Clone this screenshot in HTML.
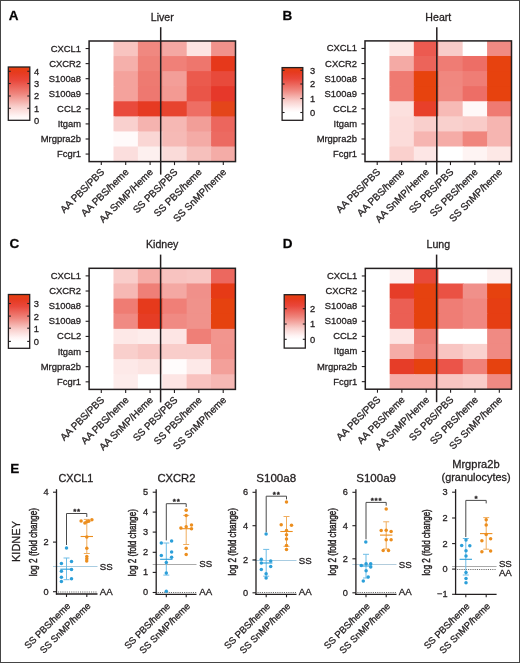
<!DOCTYPE html>
<html><head><meta charset="utf-8"><style>
html,body{margin:0;padding:0;background:#fff;overflow:hidden;width:520px;height:663px;}
svg{display:block;}
text{stroke:#231f20;stroke-width:0.3px;}
</style></head><body>
<svg width="520" height="663" viewBox="0 0 520 663" font-family='"Liberation Sans", sans-serif' style="will-change:transform">
<rect x="0.00" y="0.00" width="520.00" height="663.00" fill="#ffffff" />
<rect x="89.10" y="41.00" width="25.40" height="16.07" fill="#ffffff" />
<rect x="113.50" y="41.00" width="25.40" height="16.07" fill="#f8c4c0" />
<rect x="137.90" y="41.00" width="25.40" height="16.07" fill="#f08880" />
<rect x="162.30" y="41.00" width="25.40" height="16.07" fill="#f4a8a3" />
<rect x="186.70" y="41.00" width="25.40" height="16.07" fill="#fde4e2" />
<rect x="211.10" y="41.00" width="24.40" height="16.07" fill="#f0928b" />
<rect x="89.10" y="56.08" width="25.40" height="16.07" fill="#ffffff" />
<rect x="113.50" y="56.08" width="25.40" height="16.07" fill="#f5b0ab" />
<rect x="137.90" y="56.08" width="25.40" height="16.07" fill="#ef8178" />
<rect x="162.30" y="56.08" width="25.40" height="16.07" fill="#f08078" />
<rect x="186.70" y="56.08" width="25.40" height="16.07" fill="#ee766d" />
<rect x="211.10" y="56.08" width="24.40" height="16.07" fill="#e6381b" />
<rect x="89.10" y="71.15" width="25.40" height="16.07" fill="#ffffff" />
<rect x="113.50" y="71.15" width="25.40" height="16.07" fill="#f4a29c" />
<rect x="137.90" y="71.15" width="25.40" height="16.07" fill="#ee7a71" />
<rect x="162.30" y="71.15" width="25.40" height="16.07" fill="#f39e98" />
<rect x="186.70" y="71.15" width="25.40" height="16.07" fill="#eb5a4d" />
<rect x="211.10" y="71.15" width="24.40" height="16.07" fill="#e84a3b" />
<rect x="89.10" y="86.22" width="25.40" height="16.07" fill="#ffffff" />
<rect x="113.50" y="86.22" width="25.40" height="16.07" fill="#f4a29c" />
<rect x="137.90" y="86.22" width="25.40" height="16.07" fill="#ee7870" />
<rect x="162.30" y="86.22" width="25.40" height="16.07" fill="#f39a93" />
<rect x="186.70" y="86.22" width="25.40" height="16.07" fill="#ea5548" />
<rect x="211.10" y="86.22" width="24.40" height="16.07" fill="#e6382a" />
<rect x="89.10" y="101.30" width="25.40" height="16.07" fill="#ffffff" />
<rect x="113.50" y="101.30" width="25.40" height="16.07" fill="#e94a3c" />
<rect x="137.90" y="101.30" width="25.40" height="16.07" fill="#e63a22" />
<rect x="162.30" y="101.30" width="25.40" height="16.07" fill="#e7442e" />
<rect x="186.70" y="101.30" width="25.40" height="16.07" fill="#ee6e64" />
<rect x="211.10" y="101.30" width="24.40" height="16.07" fill="#e4451a" />
<rect x="89.10" y="116.38" width="25.40" height="16.07" fill="#ffffff" />
<rect x="113.50" y="116.38" width="25.40" height="16.07" fill="#f9d0ce" />
<rect x="137.90" y="116.38" width="25.40" height="16.07" fill="#f5b3af" />
<rect x="162.30" y="116.38" width="25.40" height="16.07" fill="#f6b8b4" />
<rect x="186.70" y="116.38" width="25.40" height="16.07" fill="#f29e98" />
<rect x="211.10" y="116.38" width="24.40" height="16.07" fill="#ec665d" />
<rect x="89.10" y="131.45" width="25.40" height="16.07" fill="#ffffff" />
<rect x="113.50" y="131.45" width="25.40" height="16.07" fill="#fffafa" />
<rect x="137.90" y="131.45" width="25.40" height="16.07" fill="#fad6d4" />
<rect x="162.30" y="131.45" width="25.40" height="16.07" fill="#f6bab6" />
<rect x="186.70" y="131.45" width="25.40" height="16.07" fill="#f4aba6" />
<rect x="211.10" y="131.45" width="24.40" height="16.07" fill="#ec6a61" />
<rect x="89.10" y="146.52" width="25.40" height="15.07" fill="#ffffff" />
<rect x="113.50" y="146.52" width="25.40" height="15.07" fill="#fbdedd" />
<rect x="137.90" y="146.52" width="25.40" height="15.07" fill="#fdf0ef" />
<rect x="162.30" y="146.52" width="25.40" height="15.07" fill="#fadbd9" />
<rect x="186.70" y="146.52" width="25.40" height="15.07" fill="#f6c0bc" />
<rect x="211.10" y="146.52" width="24.40" height="15.07" fill="#f4aca7" />
<rect x="89.10" y="41.00" width="146.40" height="120.60" fill="none" stroke="#231f20" stroke-width="1.5"/>
<line x1="85.60" y1="48.54" x2="89.10" y2="48.54" stroke="#231f20" stroke-width="1.1" />
<text x="81.10" y="51.54" font-size="9.9" text-anchor="end" font-weight="normal" fill="#231f20" textLength="30.32" lengthAdjust="spacingAndGlyphs" >CXCL1</text>
<line x1="85.60" y1="63.61" x2="89.10" y2="63.61" stroke="#231f20" stroke-width="1.1" />
<text x="81.10" y="66.61" font-size="9.9" text-anchor="end" font-weight="normal" fill="#231f20" textLength="31.9" lengthAdjust="spacingAndGlyphs" >CXCR2</text>
<line x1="85.60" y1="78.69" x2="89.10" y2="78.69" stroke="#231f20" stroke-width="1.1" />
<text x="81.10" y="81.69" font-size="9.9" text-anchor="end" font-weight="normal" fill="#231f20" textLength="32.45" lengthAdjust="spacingAndGlyphs" >S100a8</text>
<line x1="85.60" y1="93.76" x2="89.10" y2="93.76" stroke="#231f20" stroke-width="1.1" />
<text x="81.10" y="96.76" font-size="9.9" text-anchor="end" font-weight="normal" fill="#231f20" textLength="32.45" lengthAdjust="spacingAndGlyphs" >S100a9</text>
<line x1="85.60" y1="108.84" x2="89.10" y2="108.84" stroke="#231f20" stroke-width="1.1" />
<text x="81.10" y="111.84" font-size="9.9" text-anchor="end" font-weight="normal" fill="#231f20" textLength="23.99" lengthAdjust="spacingAndGlyphs" >CCL2</text>
<line x1="85.60" y1="123.91" x2="89.10" y2="123.91" stroke="#231f20" stroke-width="1.1" />
<text x="81.10" y="126.91" font-size="9.9" text-anchor="end" font-weight="normal" fill="#231f20" textLength="23.46" lengthAdjust="spacingAndGlyphs" >Itgam</text>
<line x1="85.60" y1="138.99" x2="89.10" y2="138.99" stroke="#231f20" stroke-width="1.1" />
<text x="81.10" y="141.99" font-size="9.9" text-anchor="end" font-weight="normal" fill="#231f20" textLength="40.36" lengthAdjust="spacingAndGlyphs" >Mrgpra2b</text>
<line x1="85.60" y1="154.06" x2="89.10" y2="154.06" stroke="#231f20" stroke-width="1.1" />
<text x="81.10" y="157.06" font-size="9.9" text-anchor="end" font-weight="normal" fill="#231f20" textLength="23.98" lengthAdjust="spacingAndGlyphs" >Fcgr1</text>
<line x1="101.30" y1="161.60" x2="101.30" y2="165.10" stroke="#231f20" stroke-width="1.1" />
<text transform="translate(104.90,172.70) rotate(-45)" font-size="9.9" text-anchor="end" fill="#231f20">AA PBS/PBS</text>
<line x1="125.70" y1="161.60" x2="125.70" y2="165.10" stroke="#231f20" stroke-width="1.1" />
<text transform="translate(129.30,172.70) rotate(-45)" font-size="9.9" text-anchor="end" fill="#231f20">AA PBS/heme</text>
<line x1="150.10" y1="161.60" x2="150.10" y2="165.10" stroke="#231f20" stroke-width="1.1" />
<text transform="translate(153.70,172.70) rotate(-45)" font-size="9.9" text-anchor="end" fill="#231f20">AA SnMP/Heme</text>
<line x1="174.50" y1="161.60" x2="174.50" y2="165.10" stroke="#231f20" stroke-width="1.1" />
<text transform="translate(178.10,172.70) rotate(-45)" font-size="9.9" text-anchor="end" fill="#231f20">SS PBS/PBS</text>
<line x1="198.90" y1="161.60" x2="198.90" y2="165.10" stroke="#231f20" stroke-width="1.1" />
<text transform="translate(202.50,172.70) rotate(-45)" font-size="9.9" text-anchor="end" fill="#231f20">SS PBS/heme</text>
<line x1="223.30" y1="161.60" x2="223.30" y2="165.10" stroke="#231f20" stroke-width="1.1" />
<text transform="translate(226.90,172.70) rotate(-45)" font-size="9.9" text-anchor="end" fill="#231f20">SS SnMP/heme</text>
<line x1="160.70" y1="27.20" x2="160.70" y2="174.60" stroke="#231f20" stroke-width="1.5" />
<text x="162.30" y="20.50" font-size="10.6" text-anchor="middle" font-weight="normal" fill="#231f20" >Liver</text>
<text x="8.70" y="20.00" font-size="13.5" text-anchor="start" font-weight="bold" fill="#000" >A</text>
<defs><linearGradient id="gA" x1="0" y1="0" x2="0" y2="1"><stop offset="0.0" stop-color="#e6420f"/><stop offset="0.1" stop-color="#e63a1e"/><stop offset="0.25" stop-color="#e9473b"/><stop offset="0.5" stop-color="#ef857d"/><stop offset="0.75" stop-color="#f9d0cd"/><stop offset="0.92" stop-color="#fff4f4"/><stop offset="1.0" stop-color="#ffffff"/></linearGradient></defs>
<rect x="8.30" y="67.00" width="21.50" height="53.30" fill="url(#gA)" stroke="#231f20" stroke-width="1.3"/>
<line x1="8.30" y1="71.30" x2="10.80" y2="71.30" stroke="#231f20" stroke-width="1.1" />
<line x1="27.30" y1="71.30" x2="29.80" y2="71.30" stroke="#231f20" stroke-width="1.1" />
<text x="33.90" y="74.70" font-size="9.3" text-anchor="start" font-weight="normal" fill="#231f20" >4</text>
<line x1="8.30" y1="83.50" x2="10.80" y2="83.50" stroke="#231f20" stroke-width="1.1" />
<line x1="27.30" y1="83.50" x2="29.80" y2="83.50" stroke="#231f20" stroke-width="1.1" />
<text x="33.90" y="86.90" font-size="9.3" text-anchor="start" font-weight="normal" fill="#231f20" >3</text>
<line x1="8.30" y1="96.00" x2="10.80" y2="96.00" stroke="#231f20" stroke-width="1.1" />
<line x1="27.30" y1="96.00" x2="29.80" y2="96.00" stroke="#231f20" stroke-width="1.1" />
<text x="33.90" y="99.40" font-size="9.3" text-anchor="start" font-weight="normal" fill="#231f20" >2</text>
<line x1="8.30" y1="108.30" x2="10.80" y2="108.30" stroke="#231f20" stroke-width="1.1" />
<line x1="27.30" y1="108.30" x2="29.80" y2="108.30" stroke="#231f20" stroke-width="1.1" />
<text x="33.90" y="111.70" font-size="9.3" text-anchor="start" font-weight="normal" fill="#231f20" >1</text>
<text x="33.90" y="123.70" font-size="9.3" text-anchor="start" font-weight="normal" fill="#231f20" >0</text>
<rect x="365.00" y="40.90" width="25.42" height="16.09" fill="#ffffff" />
<rect x="389.42" y="40.90" width="25.42" height="16.09" fill="#fde6e4" />
<rect x="413.83" y="40.90" width="25.42" height="16.09" fill="#ec5a50" />
<rect x="438.25" y="40.90" width="25.42" height="16.09" fill="#f8ccc9" />
<rect x="462.67" y="40.90" width="25.42" height="16.09" fill="#ffffff" />
<rect x="487.08" y="40.90" width="24.42" height="16.09" fill="#f08a83" />
<rect x="365.00" y="55.99" width="25.42" height="16.09" fill="#ffffff" />
<rect x="389.42" y="55.99" width="25.42" height="16.09" fill="#f4aaa5" />
<rect x="413.83" y="55.99" width="25.42" height="16.09" fill="#ec645a" />
<rect x="438.25" y="55.99" width="25.42" height="16.09" fill="#ef7c74" />
<rect x="462.67" y="55.99" width="25.42" height="16.09" fill="#ed6e66" />
<rect x="487.08" y="55.99" width="24.42" height="16.09" fill="#e7420f" />
<rect x="365.00" y="71.07" width="25.42" height="16.09" fill="#ffffff" />
<rect x="389.42" y="71.07" width="25.42" height="16.09" fill="#ef7a71" />
<rect x="413.83" y="71.07" width="25.42" height="16.09" fill="#e7430e" />
<rect x="438.25" y="71.07" width="25.42" height="16.09" fill="#f0877f" />
<rect x="462.67" y="71.07" width="25.42" height="16.09" fill="#ef7d75" />
<rect x="487.08" y="71.07" width="24.42" height="16.09" fill="#e7420e" />
<rect x="365.00" y="86.16" width="25.42" height="16.09" fill="#ffffff" />
<rect x="389.42" y="86.16" width="25.42" height="16.09" fill="#ef7a71" />
<rect x="413.83" y="86.16" width="25.42" height="16.09" fill="#e7430e" />
<rect x="438.25" y="86.16" width="25.42" height="16.09" fill="#f08880" />
<rect x="462.67" y="86.16" width="25.42" height="16.09" fill="#ed6e66" />
<rect x="487.08" y="86.16" width="24.42" height="16.09" fill="#e7420e" />
<rect x="365.00" y="101.25" width="25.42" height="16.09" fill="#ffffff" />
<rect x="389.42" y="101.25" width="25.42" height="16.09" fill="#fce0de" />
<rect x="413.83" y="101.25" width="25.42" height="16.09" fill="#e8402a" />
<rect x="438.25" y="101.25" width="25.42" height="16.09" fill="#f7bab6" />
<rect x="462.67" y="101.25" width="25.42" height="16.09" fill="#fff8f8" />
<rect x="487.08" y="101.25" width="24.42" height="16.09" fill="#ef7a72" />
<rect x="365.00" y="116.34" width="25.42" height="16.09" fill="#ffffff" />
<rect x="389.42" y="116.34" width="25.42" height="16.09" fill="#fcdcda" />
<rect x="413.83" y="116.34" width="25.42" height="16.09" fill="#f9cfcc" />
<rect x="438.25" y="116.34" width="25.42" height="16.09" fill="#f9d0cd" />
<rect x="462.67" y="116.34" width="25.42" height="16.09" fill="#f9cbc8" />
<rect x="487.08" y="116.34" width="24.42" height="16.09" fill="#f6b5b1" />
<rect x="365.00" y="131.42" width="25.42" height="16.09" fill="#ffffff" />
<rect x="389.42" y="131.42" width="25.42" height="16.09" fill="#fcdcda" />
<rect x="413.83" y="131.42" width="25.42" height="16.09" fill="#f6b5b1" />
<rect x="438.25" y="131.42" width="25.42" height="16.09" fill="#f5aca7" />
<rect x="462.67" y="131.42" width="25.42" height="16.09" fill="#f0857d" />
<rect x="487.08" y="131.42" width="24.42" height="16.09" fill="#f6b5b1" />
<rect x="365.00" y="146.51" width="25.42" height="15.09" fill="#ffffff" />
<rect x="389.42" y="146.51" width="25.42" height="15.09" fill="#fad0cd" />
<rect x="413.83" y="146.51" width="25.42" height="15.09" fill="#fde6e5" />
<rect x="438.25" y="146.51" width="25.42" height="15.09" fill="#ffffff" />
<rect x="462.67" y="146.51" width="25.42" height="15.09" fill="#fef4f3" />
<rect x="487.08" y="146.51" width="24.42" height="15.09" fill="#fde8e6" />
<rect x="365.00" y="40.90" width="146.50" height="120.70" fill="none" stroke="#231f20" stroke-width="1.5"/>
<line x1="361.50" y1="48.44" x2="365.00" y2="48.44" stroke="#231f20" stroke-width="1.1" />
<text x="357.00" y="51.44" font-size="9.9" text-anchor="end" font-weight="normal" fill="#231f20" textLength="30.32" lengthAdjust="spacingAndGlyphs" >CXCL1</text>
<line x1="361.50" y1="63.53" x2="365.00" y2="63.53" stroke="#231f20" stroke-width="1.1" />
<text x="357.00" y="66.53" font-size="9.9" text-anchor="end" font-weight="normal" fill="#231f20" textLength="31.9" lengthAdjust="spacingAndGlyphs" >CXCR2</text>
<line x1="361.50" y1="78.62" x2="365.00" y2="78.62" stroke="#231f20" stroke-width="1.1" />
<text x="357.00" y="81.62" font-size="9.9" text-anchor="end" font-weight="normal" fill="#231f20" textLength="32.45" lengthAdjust="spacingAndGlyphs" >S100a8</text>
<line x1="361.50" y1="93.71" x2="365.00" y2="93.71" stroke="#231f20" stroke-width="1.1" />
<text x="357.00" y="96.71" font-size="9.9" text-anchor="end" font-weight="normal" fill="#231f20" textLength="32.45" lengthAdjust="spacingAndGlyphs" >S100a9</text>
<line x1="361.50" y1="108.79" x2="365.00" y2="108.79" stroke="#231f20" stroke-width="1.1" />
<text x="357.00" y="111.79" font-size="9.9" text-anchor="end" font-weight="normal" fill="#231f20" textLength="23.99" lengthAdjust="spacingAndGlyphs" >CCL2</text>
<line x1="361.50" y1="123.88" x2="365.00" y2="123.88" stroke="#231f20" stroke-width="1.1" />
<text x="357.00" y="126.88" font-size="9.9" text-anchor="end" font-weight="normal" fill="#231f20" textLength="23.46" lengthAdjust="spacingAndGlyphs" >Itgam</text>
<line x1="361.50" y1="138.97" x2="365.00" y2="138.97" stroke="#231f20" stroke-width="1.1" />
<text x="357.00" y="141.97" font-size="9.9" text-anchor="end" font-weight="normal" fill="#231f20" textLength="40.36" lengthAdjust="spacingAndGlyphs" >Mrgpra2b</text>
<line x1="361.50" y1="154.06" x2="365.00" y2="154.06" stroke="#231f20" stroke-width="1.1" />
<text x="357.00" y="157.06" font-size="9.9" text-anchor="end" font-weight="normal" fill="#231f20" textLength="23.98" lengthAdjust="spacingAndGlyphs" >Fcgr1</text>
<line x1="377.21" y1="161.60" x2="377.21" y2="165.10" stroke="#231f20" stroke-width="1.1" />
<text transform="translate(380.81,172.70) rotate(-45)" font-size="9.9" text-anchor="end" fill="#231f20">AA PBS/PBS</text>
<line x1="401.62" y1="161.60" x2="401.62" y2="165.10" stroke="#231f20" stroke-width="1.1" />
<text transform="translate(405.23,172.70) rotate(-45)" font-size="9.9" text-anchor="end" fill="#231f20">AA PBS/heme</text>
<line x1="426.04" y1="161.60" x2="426.04" y2="165.10" stroke="#231f20" stroke-width="1.1" />
<text transform="translate(429.64,172.70) rotate(-45)" font-size="9.9" text-anchor="end" fill="#231f20">AA SnMP/Heme</text>
<line x1="450.46" y1="161.60" x2="450.46" y2="165.10" stroke="#231f20" stroke-width="1.1" />
<text transform="translate(454.06,172.70) rotate(-45)" font-size="9.9" text-anchor="end" fill="#231f20">SS PBS/PBS</text>
<line x1="474.88" y1="161.60" x2="474.88" y2="165.10" stroke="#231f20" stroke-width="1.1" />
<text transform="translate(478.48,172.70) rotate(-45)" font-size="9.9" text-anchor="end" fill="#231f20">SS PBS/heme</text>
<line x1="499.29" y1="161.60" x2="499.29" y2="165.10" stroke="#231f20" stroke-width="1.1" />
<text transform="translate(502.89,172.70) rotate(-45)" font-size="9.9" text-anchor="end" fill="#231f20">SS SnMP/heme</text>
<line x1="436.80" y1="27.20" x2="436.80" y2="174.60" stroke="#231f20" stroke-width="1.5" />
<text x="438.30" y="20.50" font-size="10.6" text-anchor="middle" font-weight="normal" fill="#231f20" >Heart</text>
<text x="282.50" y="20.00" font-size="13.5" text-anchor="start" font-weight="bold" fill="#000" >B</text>
<defs><linearGradient id="gB" x1="0" y1="0" x2="0" y2="1"><stop offset="0.0" stop-color="#e6420f"/><stop offset="0.0851" stop-color="#e63a1e"/><stop offset="0.2128" stop-color="#e9473b"/><stop offset="0.4255" stop-color="#ef857d"/><stop offset="0.6383" stop-color="#f9d0cd"/><stop offset="0.783" stop-color="#fff4f4"/><stop offset="0.8511" stop-color="#ffffff"/><stop offset="1.0" stop-color="#ffffff"/></linearGradient></defs>
<rect x="282.10" y="67.60" width="20.70" height="52.70" fill="url(#gB)" stroke="#231f20" stroke-width="1.3"/>
<line x1="282.10" y1="70.30" x2="284.60" y2="70.30" stroke="#231f20" stroke-width="1.1" />
<line x1="300.30" y1="70.30" x2="302.80" y2="70.30" stroke="#231f20" stroke-width="1.1" />
<text x="309.90" y="73.70" font-size="9.3" text-anchor="start" font-weight="normal" fill="#231f20" >3</text>
<line x1="282.10" y1="84.00" x2="284.60" y2="84.00" stroke="#231f20" stroke-width="1.1" />
<line x1="300.30" y1="84.00" x2="302.80" y2="84.00" stroke="#231f20" stroke-width="1.1" />
<text x="309.90" y="87.40" font-size="9.3" text-anchor="start" font-weight="normal" fill="#231f20" >2</text>
<line x1="282.10" y1="98.50" x2="284.60" y2="98.50" stroke="#231f20" stroke-width="1.1" />
<line x1="300.30" y1="98.50" x2="302.80" y2="98.50" stroke="#231f20" stroke-width="1.1" />
<text x="309.90" y="101.90" font-size="9.3" text-anchor="start" font-weight="normal" fill="#231f20" >1</text>
<line x1="282.10" y1="112.50" x2="284.60" y2="112.50" stroke="#231f20" stroke-width="1.1" />
<line x1="300.30" y1="112.50" x2="302.80" y2="112.50" stroke="#231f20" stroke-width="1.1" />
<text x="309.90" y="115.90" font-size="9.3" text-anchor="start" font-weight="normal" fill="#231f20" >0</text>
<rect x="89.10" y="268.30" width="25.38" height="16.14" fill="#ffffff" />
<rect x="113.48" y="268.30" width="25.38" height="16.14" fill="#f9cdca" />
<rect x="137.87" y="268.30" width="25.38" height="16.14" fill="#f5aca7" />
<rect x="162.25" y="268.30" width="25.38" height="16.14" fill="#f8c3c0" />
<rect x="186.63" y="268.30" width="25.38" height="16.14" fill="#f8c6c3" />
<rect x="211.02" y="268.30" width="24.38" height="16.14" fill="#ec685f" />
<rect x="89.10" y="283.44" width="25.38" height="16.14" fill="#ffffff" />
<rect x="113.48" y="283.44" width="25.38" height="16.14" fill="#f6b8b4" />
<rect x="137.87" y="283.44" width="25.38" height="16.14" fill="#ef7f77" />
<rect x="162.25" y="283.44" width="25.38" height="16.14" fill="#f4a8a3" />
<rect x="186.63" y="283.44" width="25.38" height="16.14" fill="#f0908a" />
<rect x="211.02" y="283.44" width="24.38" height="16.14" fill="#e63a16" />
<rect x="89.10" y="298.57" width="25.38" height="16.14" fill="#ffffff" />
<rect x="113.48" y="298.57" width="25.38" height="16.14" fill="#ef7c73" />
<rect x="137.87" y="298.57" width="25.38" height="16.14" fill="#e63a1c" />
<rect x="162.25" y="298.57" width="25.38" height="16.14" fill="#f07f77" />
<rect x="186.63" y="298.57" width="25.38" height="16.14" fill="#f0928b" />
<rect x="211.02" y="298.57" width="24.38" height="16.14" fill="#e6420f" />
<rect x="89.10" y="313.71" width="25.38" height="16.14" fill="#ffffff" />
<rect x="113.48" y="313.71" width="25.38" height="16.14" fill="#f08a83" />
<rect x="137.87" y="313.71" width="25.38" height="16.14" fill="#e63d25" />
<rect x="162.25" y="313.71" width="25.38" height="16.14" fill="#f08a83" />
<rect x="186.63" y="313.71" width="25.38" height="16.14" fill="#f0928b" />
<rect x="211.02" y="313.71" width="24.38" height="16.14" fill="#e6420f" />
<rect x="89.10" y="328.85" width="25.38" height="16.14" fill="#ffffff" />
<rect x="113.48" y="328.85" width="25.38" height="16.14" fill="#fde8e7" />
<rect x="137.87" y="328.85" width="25.38" height="16.14" fill="#fdeceb" />
<rect x="162.25" y="328.85" width="25.38" height="16.14" fill="#fde5e4" />
<rect x="186.63" y="328.85" width="25.38" height="16.14" fill="#ef7f77" />
<rect x="211.02" y="328.85" width="24.38" height="16.14" fill="#f2958e" />
<rect x="89.10" y="343.99" width="25.38" height="16.14" fill="#ffffff" />
<rect x="113.48" y="343.99" width="25.38" height="16.14" fill="#f9cfcc" />
<rect x="137.87" y="343.99" width="25.38" height="16.14" fill="#f8c5c2" />
<rect x="162.25" y="343.99" width="25.38" height="16.14" fill="#f9cdca" />
<rect x="186.63" y="343.99" width="25.38" height="16.14" fill="#f9cdca" />
<rect x="211.02" y="343.99" width="24.38" height="16.14" fill="#f2948d" />
<rect x="89.10" y="359.12" width="25.38" height="16.14" fill="#ffffff" />
<rect x="113.48" y="359.12" width="25.38" height="16.14" fill="#fde9e8" />
<rect x="137.87" y="359.12" width="25.38" height="16.14" fill="#fce4e2" />
<rect x="162.25" y="359.12" width="25.38" height="16.14" fill="#fffcfc" />
<rect x="186.63" y="359.12" width="25.38" height="16.14" fill="#fde9e8" />
<rect x="211.02" y="359.12" width="24.38" height="16.14" fill="#f3a09a" />
<rect x="89.10" y="374.26" width="25.38" height="15.14" fill="#ffffff" />
<rect x="113.48" y="374.26" width="25.38" height="15.14" fill="#fdeceb" />
<rect x="137.87" y="374.26" width="25.38" height="15.14" fill="#ffffff" />
<rect x="162.25" y="374.26" width="25.38" height="15.14" fill="#fde5e4" />
<rect x="186.63" y="374.26" width="25.38" height="15.14" fill="#f8c2bf" />
<rect x="211.02" y="374.26" width="24.38" height="15.14" fill="#f6b8b4" />
<rect x="89.10" y="268.30" width="146.30" height="121.10" fill="none" stroke="#231f20" stroke-width="1.5"/>
<line x1="85.60" y1="275.87" x2="89.10" y2="275.87" stroke="#231f20" stroke-width="1.1" />
<text x="81.10" y="278.87" font-size="9.9" text-anchor="end" font-weight="normal" fill="#231f20" textLength="30.32" lengthAdjust="spacingAndGlyphs" >CXCL1</text>
<line x1="85.60" y1="291.01" x2="89.10" y2="291.01" stroke="#231f20" stroke-width="1.1" />
<text x="81.10" y="294.01" font-size="9.9" text-anchor="end" font-weight="normal" fill="#231f20" textLength="31.9" lengthAdjust="spacingAndGlyphs" >CXCR2</text>
<line x1="85.60" y1="306.14" x2="89.10" y2="306.14" stroke="#231f20" stroke-width="1.1" />
<text x="81.10" y="309.14" font-size="9.9" text-anchor="end" font-weight="normal" fill="#231f20" textLength="32.45" lengthAdjust="spacingAndGlyphs" >S100a8</text>
<line x1="85.60" y1="321.28" x2="89.10" y2="321.28" stroke="#231f20" stroke-width="1.1" />
<text x="81.10" y="324.28" font-size="9.9" text-anchor="end" font-weight="normal" fill="#231f20" textLength="32.45" lengthAdjust="spacingAndGlyphs" >S100a9</text>
<line x1="85.60" y1="336.42" x2="89.10" y2="336.42" stroke="#231f20" stroke-width="1.1" />
<text x="81.10" y="339.42" font-size="9.9" text-anchor="end" font-weight="normal" fill="#231f20" textLength="23.99" lengthAdjust="spacingAndGlyphs" >CCL2</text>
<line x1="85.60" y1="351.56" x2="89.10" y2="351.56" stroke="#231f20" stroke-width="1.1" />
<text x="81.10" y="354.56" font-size="9.9" text-anchor="end" font-weight="normal" fill="#231f20" textLength="23.46" lengthAdjust="spacingAndGlyphs" >Itgam</text>
<line x1="85.60" y1="366.69" x2="89.10" y2="366.69" stroke="#231f20" stroke-width="1.1" />
<text x="81.10" y="369.69" font-size="9.9" text-anchor="end" font-weight="normal" fill="#231f20" textLength="40.36" lengthAdjust="spacingAndGlyphs" >Mrgpra2b</text>
<line x1="85.60" y1="381.83" x2="89.10" y2="381.83" stroke="#231f20" stroke-width="1.1" />
<text x="81.10" y="384.83" font-size="9.9" text-anchor="end" font-weight="normal" fill="#231f20" textLength="23.98" lengthAdjust="spacingAndGlyphs" >Fcgr1</text>
<line x1="101.29" y1="389.40" x2="101.29" y2="392.90" stroke="#231f20" stroke-width="1.1" />
<text transform="translate(104.89,400.50) rotate(-45)" font-size="9.9" text-anchor="end" fill="#231f20">AA PBS/PBS</text>
<line x1="125.67" y1="389.40" x2="125.67" y2="392.90" stroke="#231f20" stroke-width="1.1" />
<text transform="translate(129.28,400.50) rotate(-45)" font-size="9.9" text-anchor="end" fill="#231f20">AA PBS/heme</text>
<line x1="150.06" y1="389.40" x2="150.06" y2="392.90" stroke="#231f20" stroke-width="1.1" />
<text transform="translate(153.66,400.50) rotate(-45)" font-size="9.9" text-anchor="end" fill="#231f20">AA SnMP/Heme</text>
<line x1="174.44" y1="389.40" x2="174.44" y2="392.90" stroke="#231f20" stroke-width="1.1" />
<text transform="translate(178.04,400.50) rotate(-45)" font-size="9.9" text-anchor="end" fill="#231f20">SS PBS/PBS</text>
<line x1="198.82" y1="389.40" x2="198.82" y2="392.90" stroke="#231f20" stroke-width="1.1" />
<text transform="translate(202.42,400.50) rotate(-45)" font-size="9.9" text-anchor="end" fill="#231f20">SS PBS/heme</text>
<line x1="223.21" y1="389.40" x2="223.21" y2="392.90" stroke="#231f20" stroke-width="1.1" />
<text transform="translate(226.81,400.50) rotate(-45)" font-size="9.9" text-anchor="end" fill="#231f20">SS SnMP/heme</text>
<line x1="160.60" y1="254.60" x2="160.60" y2="402.40" stroke="#231f20" stroke-width="1.5" />
<text x="162.20" y="247.90" font-size="10.6" text-anchor="middle" font-weight="normal" fill="#231f20" >Kidney</text>
<text x="9.50" y="248.00" font-size="13.5" text-anchor="start" font-weight="bold" fill="#000" >C</text>
<defs><linearGradient id="gC" x1="0" y1="0" x2="0" y2="1"><stop offset="0.0" stop-color="#e6420f"/><stop offset="0.0871" stop-color="#e63a1e"/><stop offset="0.2177" stop-color="#e9473b"/><stop offset="0.4354" stop-color="#ef857d"/><stop offset="0.6532" stop-color="#f9d0cd"/><stop offset="0.8012" stop-color="#fff4f4"/><stop offset="0.8709" stop-color="#ffffff"/><stop offset="1.0" stop-color="#ffffff"/></linearGradient></defs>
<rect x="8.40" y="294.50" width="21.30" height="53.80" fill="url(#gC)" stroke="#231f20" stroke-width="1.3"/>
<line x1="8.40" y1="303.50" x2="10.90" y2="303.50" stroke="#231f20" stroke-width="1.1" />
<line x1="27.20" y1="303.50" x2="29.70" y2="303.50" stroke="#231f20" stroke-width="1.1" />
<text x="33.80" y="306.90" font-size="9.3" text-anchor="start" font-weight="normal" fill="#231f20" >3</text>
<line x1="8.40" y1="316.10" x2="10.90" y2="316.10" stroke="#231f20" stroke-width="1.1" />
<line x1="27.20" y1="316.10" x2="29.70" y2="316.10" stroke="#231f20" stroke-width="1.1" />
<text x="33.80" y="319.50" font-size="9.3" text-anchor="start" font-weight="normal" fill="#231f20" >2</text>
<line x1="8.40" y1="328.20" x2="10.90" y2="328.20" stroke="#231f20" stroke-width="1.1" />
<line x1="27.20" y1="328.20" x2="29.70" y2="328.20" stroke="#231f20" stroke-width="1.1" />
<text x="33.80" y="331.60" font-size="9.3" text-anchor="start" font-weight="normal" fill="#231f20" >1</text>
<line x1="8.40" y1="341.40" x2="10.90" y2="341.40" stroke="#231f20" stroke-width="1.1" />
<line x1="27.20" y1="341.40" x2="29.70" y2="341.40" stroke="#231f20" stroke-width="1.1" />
<text x="33.80" y="344.80" font-size="9.3" text-anchor="start" font-weight="normal" fill="#231f20" >0</text>
<rect x="365.30" y="268.40" width="25.37" height="16.10" fill="#ffffff" />
<rect x="389.67" y="268.40" width="25.37" height="16.10" fill="#fdf0ef" />
<rect x="414.03" y="268.40" width="25.37" height="16.10" fill="#e84a3a" />
<rect x="438.40" y="268.40" width="25.37" height="16.10" fill="#ffffff" />
<rect x="462.77" y="268.40" width="25.37" height="16.10" fill="#ffffff" />
<rect x="487.13" y="268.40" width="24.37" height="16.10" fill="#fdf0ef" />
<rect x="365.30" y="283.50" width="25.37" height="16.10" fill="#ffffff" />
<rect x="389.67" y="283.50" width="25.37" height="16.10" fill="#e63d28" />
<rect x="414.03" y="283.50" width="25.37" height="16.10" fill="#e6420f" />
<rect x="438.40" y="283.50" width="25.37" height="16.10" fill="#ea5244" />
<rect x="462.77" y="283.50" width="25.37" height="16.10" fill="#f0908a" />
<rect x="487.13" y="283.50" width="24.37" height="16.10" fill="#e6420f" />
<rect x="365.30" y="298.60" width="25.37" height="16.10" fill="#ffffff" />
<rect x="389.67" y="298.60" width="25.37" height="16.10" fill="#eb5f54" />
<rect x="414.03" y="298.60" width="25.37" height="16.10" fill="#e6420f" />
<rect x="438.40" y="298.60" width="25.37" height="16.10" fill="#ef7d75" />
<rect x="462.77" y="298.60" width="25.37" height="16.10" fill="#f08780" />
<rect x="487.13" y="298.60" width="24.37" height="16.10" fill="#e63e13" />
<rect x="365.30" y="313.70" width="25.37" height="16.10" fill="#ffffff" />
<rect x="389.67" y="313.70" width="25.37" height="16.10" fill="#eb5f54" />
<rect x="414.03" y="313.70" width="25.37" height="16.10" fill="#e6420f" />
<rect x="438.40" y="313.70" width="25.37" height="16.10" fill="#ef7d75" />
<rect x="462.77" y="313.70" width="25.37" height="16.10" fill="#f08780" />
<rect x="487.13" y="313.70" width="24.37" height="16.10" fill="#e63e13" />
<rect x="365.30" y="328.80" width="25.37" height="16.10" fill="#ffffff" />
<rect x="389.67" y="328.80" width="25.37" height="16.10" fill="#fde5e4" />
<rect x="414.03" y="328.80" width="25.37" height="16.10" fill="#ef7f77" />
<rect x="438.40" y="328.80" width="25.37" height="16.10" fill="#ffffff" />
<rect x="462.77" y="328.80" width="25.37" height="16.10" fill="#ffffff" />
<rect x="487.13" y="328.80" width="24.37" height="16.10" fill="#f08a83" />
<rect x="365.30" y="343.90" width="25.37" height="16.10" fill="#ffffff" />
<rect x="389.67" y="343.90" width="25.37" height="16.10" fill="#f5aca7" />
<rect x="414.03" y="343.90" width="25.37" height="16.10" fill="#f08780" />
<rect x="438.40" y="343.90" width="25.37" height="16.10" fill="#f8c5c2" />
<rect x="462.77" y="343.90" width="25.37" height="16.10" fill="#fad2cf" />
<rect x="487.13" y="343.90" width="24.37" height="16.10" fill="#f08a83" />
<rect x="365.30" y="359.00" width="25.37" height="16.10" fill="#ffffff" />
<rect x="389.67" y="359.00" width="25.37" height="16.10" fill="#e63d28" />
<rect x="414.03" y="359.00" width="25.37" height="16.10" fill="#e6420f" />
<rect x="438.40" y="359.00" width="25.37" height="16.10" fill="#eb5449" />
<rect x="462.77" y="359.00" width="25.37" height="16.10" fill="#f08078" />
<rect x="487.13" y="359.00" width="24.37" height="16.10" fill="#e6420f" />
<rect x="365.30" y="374.10" width="25.37" height="15.10" fill="#ffffff" />
<rect x="389.67" y="374.10" width="25.37" height="15.10" fill="#f5aca7" />
<rect x="414.03" y="374.10" width="25.37" height="15.10" fill="#f5aca7" />
<rect x="438.40" y="374.10" width="25.37" height="15.10" fill="#f8c5c2" />
<rect x="462.77" y="374.10" width="25.37" height="15.10" fill="#f9ccc9" />
<rect x="487.13" y="374.10" width="24.37" height="15.10" fill="#f08a83" />
<rect x="365.30" y="268.40" width="146.20" height="120.80" fill="none" stroke="#231f20" stroke-width="1.5"/>
<line x1="361.80" y1="275.95" x2="365.30" y2="275.95" stroke="#231f20" stroke-width="1.1" />
<text x="357.30" y="278.95" font-size="9.9" text-anchor="end" font-weight="normal" fill="#231f20" textLength="30.32" lengthAdjust="spacingAndGlyphs" >CXCL1</text>
<line x1="361.80" y1="291.05" x2="365.30" y2="291.05" stroke="#231f20" stroke-width="1.1" />
<text x="357.30" y="294.05" font-size="9.9" text-anchor="end" font-weight="normal" fill="#231f20" textLength="31.9" lengthAdjust="spacingAndGlyphs" >CXCR2</text>
<line x1="361.80" y1="306.15" x2="365.30" y2="306.15" stroke="#231f20" stroke-width="1.1" />
<text x="357.30" y="309.15" font-size="9.9" text-anchor="end" font-weight="normal" fill="#231f20" textLength="32.45" lengthAdjust="spacingAndGlyphs" >S100a8</text>
<line x1="361.80" y1="321.25" x2="365.30" y2="321.25" stroke="#231f20" stroke-width="1.1" />
<text x="357.30" y="324.25" font-size="9.9" text-anchor="end" font-weight="normal" fill="#231f20" textLength="32.45" lengthAdjust="spacingAndGlyphs" >S100a9</text>
<line x1="361.80" y1="336.35" x2="365.30" y2="336.35" stroke="#231f20" stroke-width="1.1" />
<text x="357.30" y="339.35" font-size="9.9" text-anchor="end" font-weight="normal" fill="#231f20" textLength="23.99" lengthAdjust="spacingAndGlyphs" >CCL2</text>
<line x1="361.80" y1="351.45" x2="365.30" y2="351.45" stroke="#231f20" stroke-width="1.1" />
<text x="357.30" y="354.45" font-size="9.9" text-anchor="end" font-weight="normal" fill="#231f20" textLength="23.46" lengthAdjust="spacingAndGlyphs" >Itgam</text>
<line x1="361.80" y1="366.55" x2="365.30" y2="366.55" stroke="#231f20" stroke-width="1.1" />
<text x="357.30" y="369.55" font-size="9.9" text-anchor="end" font-weight="normal" fill="#231f20" textLength="40.36" lengthAdjust="spacingAndGlyphs" >Mrgpra2b</text>
<line x1="361.80" y1="381.65" x2="365.30" y2="381.65" stroke="#231f20" stroke-width="1.1" />
<text x="357.30" y="384.65" font-size="9.9" text-anchor="end" font-weight="normal" fill="#231f20" textLength="23.98" lengthAdjust="spacingAndGlyphs" >Fcgr1</text>
<line x1="377.48" y1="389.20" x2="377.48" y2="392.70" stroke="#231f20" stroke-width="1.1" />
<text transform="translate(381.08,400.30) rotate(-45)" font-size="9.9" text-anchor="end" fill="#231f20">AA PBS/PBS</text>
<line x1="401.85" y1="389.20" x2="401.85" y2="392.70" stroke="#231f20" stroke-width="1.1" />
<text transform="translate(405.45,400.30) rotate(-45)" font-size="9.9" text-anchor="end" fill="#231f20">AA PBS/heme</text>
<line x1="426.22" y1="389.20" x2="426.22" y2="392.70" stroke="#231f20" stroke-width="1.1" />
<text transform="translate(429.82,400.30) rotate(-45)" font-size="9.9" text-anchor="end" fill="#231f20">AA SnMP/Heme</text>
<line x1="450.58" y1="389.20" x2="450.58" y2="392.70" stroke="#231f20" stroke-width="1.1" />
<text transform="translate(454.18,400.30) rotate(-45)" font-size="9.9" text-anchor="end" fill="#231f20">SS PBS/PBS</text>
<line x1="474.95" y1="389.20" x2="474.95" y2="392.70" stroke="#231f20" stroke-width="1.1" />
<text transform="translate(478.55,400.30) rotate(-45)" font-size="9.9" text-anchor="end" fill="#231f20">SS PBS/heme</text>
<line x1="499.32" y1="389.20" x2="499.32" y2="392.70" stroke="#231f20" stroke-width="1.1" />
<text transform="translate(502.92,400.30) rotate(-45)" font-size="9.9" text-anchor="end" fill="#231f20">SS SnMP/heme</text>
<line x1="436.60" y1="254.60" x2="436.60" y2="402.20" stroke="#231f20" stroke-width="1.5" />
<text x="438.30" y="247.90" font-size="10.6" text-anchor="middle" font-weight="normal" fill="#231f20" >Lung</text>
<text x="282.70" y="247.50" font-size="13.5" text-anchor="start" font-weight="bold" fill="#000" >D</text>
<defs><linearGradient id="gD" x1="0" y1="0" x2="0" y2="1"><stop offset="0.0" stop-color="#e6420f"/><stop offset="0.0837" stop-color="#e63a1e"/><stop offset="0.2092" stop-color="#e9473b"/><stop offset="0.4183" stop-color="#ef857d"/><stop offset="0.6275" stop-color="#f9d0cd"/><stop offset="0.7697" stop-color="#fff4f4"/><stop offset="0.8367" stop-color="#ffffff"/><stop offset="1.0" stop-color="#ffffff"/></linearGradient></defs>
<rect x="284.20" y="294.70" width="21.10" height="53.40" fill="url(#gD)" stroke="#231f20" stroke-width="1.3"/>
<line x1="284.20" y1="308.70" x2="286.70" y2="308.70" stroke="#231f20" stroke-width="1.1" />
<line x1="302.80" y1="308.70" x2="305.30" y2="308.70" stroke="#231f20" stroke-width="1.1" />
<text x="310.00" y="312.10" font-size="9.3" text-anchor="start" font-weight="normal" fill="#231f20" >2</text>
<line x1="284.20" y1="324.00" x2="286.70" y2="324.00" stroke="#231f20" stroke-width="1.1" />
<line x1="302.80" y1="324.00" x2="305.30" y2="324.00" stroke="#231f20" stroke-width="1.1" />
<text x="310.00" y="327.40" font-size="9.3" text-anchor="start" font-weight="normal" fill="#231f20" >1</text>
<line x1="284.20" y1="339.30" x2="286.70" y2="339.30" stroke="#231f20" stroke-width="1.1" />
<line x1="302.80" y1="339.30" x2="305.30" y2="339.30" stroke="#231f20" stroke-width="1.1" />
<text x="310.00" y="342.70" font-size="9.3" text-anchor="start" font-weight="normal" fill="#231f20" >0</text>
<text x="10.20" y="472.50" font-size="13.5" text-anchor="start" font-weight="bold" fill="#000" >E</text>
<text transform="translate(20.3,541.5) rotate(-90)" font-size="11" text-anchor="middle" fill="#231f20">KIDNEY</text>
<text x="75.90" y="482.10" font-size="11" text-anchor="middle" font-weight="normal" fill="#231f20" textLength="34.9" lengthAdjust="spacingAndGlyphs" >CXCL1</text>
<line x1="53.00" y1="566.50" x2="97.50" y2="566.50" stroke="#9ec6de" stroke-width="0.9" />
<line x1="58.00" y1="592.00" x2="97.50" y2="592.00" stroke="#666" stroke-width="1.0" stroke-dasharray="1.1,1.1"/>
<text x="99.80" y="569.90" font-size="9.7" text-anchor="start" font-weight="normal" fill="#231f20" >SS</text>
<text x="99.80" y="594.70" font-size="9.7" text-anchor="start" font-weight="normal" fill="#231f20" >AA</text>
<line x1="56.50" y1="489.20" x2="56.50" y2="594.60" stroke="#231f20" stroke-width="1.3" />
<line x1="55.90" y1="594.00" x2="97.50" y2="594.00" stroke="#231f20" stroke-width="1.3" />
<line x1="53.00" y1="492.20" x2="56.50" y2="492.20" stroke="#231f20" stroke-width="1.1" />
<text x="48.50" y="495.10" font-size="9.2" text-anchor="end" font-weight="normal" fill="#231f20" >4</text>
<line x1="53.00" y1="542.10" x2="56.50" y2="542.10" stroke="#231f20" stroke-width="1.1" />
<text x="48.50" y="545.00" font-size="9.2" text-anchor="end" font-weight="normal" fill="#231f20" >2</text>
<line x1="53.00" y1="591.70" x2="56.50" y2="591.70" stroke="#231f20" stroke-width="1.1" />
<text x="48.50" y="594.60" font-size="9.2" text-anchor="end" font-weight="normal" fill="#231f20" >0</text>
<line x1="66.50" y1="594.00" x2="66.50" y2="597.00" stroke="#231f20" stroke-width="1.1" />
<line x1="86.80" y1="594.00" x2="86.80" y2="597.00" stroke="#231f20" stroke-width="1.1" />
<text transform="translate(71.00,606.50) rotate(-45)" font-size="9.45" text-anchor="end" fill="#231f20">SS PBS/heme</text>
<text transform="translate(91.30,606.50) rotate(-45)" font-size="9.45" text-anchor="end" fill="#231f20">SS SnMP/heme</text>
<text transform="translate(37.10,542.15) rotate(-90)" font-size="10.5" text-anchor="middle" fill="#231f20" style="stroke-width:0.45px" textLength="68.3" lengthAdjust="spacingAndGlyphs">log 2 (fold change)</text>
<polyline points="66.50,545.00 66.50,513.50 86.80,513.50 86.80,517.00" fill="none" stroke="#4a4a4a" stroke-width="1.0"/>
<text x="77.05" y="514.20" font-size="8.0" text-anchor="middle" font-weight="bold" fill="#231f20" letter-spacing="0.8">**</text>
<line x1="66.50" y1="558.00" x2="66.50" y2="579.70" stroke="#6fbde6" stroke-width="1.0" />
<line x1="63.50" y1="558.00" x2="69.50" y2="558.00" stroke="#6fbde6" stroke-width="1.0" />
<line x1="63.50" y1="579.70" x2="69.50" y2="579.70" stroke="#6fbde6" stroke-width="1.0" />
<line x1="86.80" y1="519.40" x2="86.80" y2="553.50" stroke="#f0ad5e" stroke-width="1.0" />
<line x1="83.80" y1="519.40" x2="89.80" y2="519.40" stroke="#f0ad5e" stroke-width="1.0" />
<line x1="83.80" y1="553.50" x2="89.80" y2="553.50" stroke="#f0ad5e" stroke-width="1.0" />
<circle cx="66.50" cy="548.10" r="1.75" fill="#2b9fd9"/>
<circle cx="61.40" cy="563.40" r="1.75" fill="#2b9fd9"/>
<circle cx="71.50" cy="561.60" r="1.75" fill="#2b9fd9"/>
<circle cx="61.40" cy="571.20" r="1.75" fill="#2b9fd9"/>
<circle cx="71.50" cy="569.50" r="1.75" fill="#2b9fd9"/>
<circle cx="61.40" cy="577.20" r="1.75" fill="#2b9fd9"/>
<circle cx="71.50" cy="578.80" r="1.75" fill="#2b9fd9"/>
<circle cx="61.40" cy="581.40" r="1.75" fill="#2b9fd9"/>
<circle cx="81.10" cy="521.10" r="1.75" fill="#ec8e1e"/>
<circle cx="84.90" cy="523.00" r="1.75" fill="#ec8e1e"/>
<circle cx="86.80" cy="521.70" r="1.75" fill="#ec8e1e"/>
<circle cx="88.70" cy="521.30" r="1.75" fill="#ec8e1e"/>
<circle cx="91.90" cy="519.80" r="1.75" fill="#ec8e1e"/>
<circle cx="86.80" cy="537.00" r="1.75" fill="#ec8e1e"/>
<circle cx="86.80" cy="548.20" r="1.75" fill="#ec8e1e"/>
<circle cx="86.80" cy="556.60" r="1.75" fill="#ec8e1e"/>
<circle cx="86.80" cy="558.80" r="1.75" fill="#ec8e1e"/>
<circle cx="86.70" cy="561.00" r="1.75" fill="#ec8e1e"/>
<line x1="60.30" y1="569.20" x2="72.70" y2="569.20" stroke="#2b9fd9" stroke-width="1.1" />
<line x1="80.60" y1="536.50" x2="93.00" y2="536.50" stroke="#ec8e1e" stroke-width="1.1" />
<text x="176.40" y="482.10" font-size="11" text-anchor="middle" font-weight="normal" fill="#231f20" textLength="38.0" lengthAdjust="spacingAndGlyphs" >CXCR2</text>
<line x1="152.70" y1="564.50" x2="196.50" y2="564.50" stroke="#a0a0a0" stroke-width="0.9" />
<line x1="157.70" y1="592.50" x2="196.50" y2="592.50" stroke="#666" stroke-width="1.0" stroke-dasharray="1.1,1.1"/>
<text x="199.30" y="567.20" font-size="9.7" text-anchor="start" font-weight="normal" fill="#231f20" >SS</text>
<text x="199.30" y="595.20" font-size="9.7" text-anchor="start" font-weight="normal" fill="#231f20" >AA</text>
<line x1="156.20" y1="489.20" x2="156.20" y2="594.90" stroke="#231f20" stroke-width="1.3" />
<line x1="155.60" y1="594.30" x2="196.50" y2="594.30" stroke="#231f20" stroke-width="1.3" />
<line x1="152.70" y1="492.20" x2="156.20" y2="492.20" stroke="#231f20" stroke-width="1.1" />
<text x="148.20" y="495.10" font-size="9.2" text-anchor="end" font-weight="normal" fill="#231f20" >5</text>
<line x1="152.70" y1="512.10" x2="156.20" y2="512.10" stroke="#231f20" stroke-width="1.1" />
<text x="148.20" y="515.00" font-size="9.2" text-anchor="end" font-weight="normal" fill="#231f20" >4</text>
<line x1="152.70" y1="532.10" x2="156.20" y2="532.10" stroke="#231f20" stroke-width="1.1" />
<text x="148.20" y="535.00" font-size="9.2" text-anchor="end" font-weight="normal" fill="#231f20" >3</text>
<line x1="152.70" y1="552.30" x2="156.20" y2="552.30" stroke="#231f20" stroke-width="1.1" />
<text x="148.20" y="555.20" font-size="9.2" text-anchor="end" font-weight="normal" fill="#231f20" >2</text>
<line x1="152.70" y1="572.40" x2="156.20" y2="572.40" stroke="#231f20" stroke-width="1.1" />
<text x="148.20" y="575.30" font-size="9.2" text-anchor="end" font-weight="normal" fill="#231f20" >1</text>
<line x1="152.70" y1="592.50" x2="156.20" y2="592.50" stroke="#231f20" stroke-width="1.1" />
<text x="148.20" y="595.40" font-size="9.2" text-anchor="end" font-weight="normal" fill="#231f20" >0</text>
<line x1="166.30" y1="594.30" x2="166.30" y2="597.30" stroke="#231f20" stroke-width="1.1" />
<line x1="186.20" y1="594.30" x2="186.20" y2="597.30" stroke="#231f20" stroke-width="1.1" />
<text transform="translate(170.80,606.80) rotate(-45)" font-size="9.45" text-anchor="end" fill="#231f20">SS PBS/heme</text>
<text transform="translate(190.70,606.80) rotate(-45)" font-size="9.45" text-anchor="end" fill="#231f20">SS SnMP/heme</text>
<text transform="translate(135.70,542.75) rotate(-90)" font-size="10.5" text-anchor="middle" fill="#231f20" style="stroke-width:0.45px" textLength="67.2" lengthAdjust="spacingAndGlyphs">log 2 (fold change)</text>
<polyline points="166.30,540.40 166.30,503.70 186.20,503.70 186.20,507.00" fill="none" stroke="#4a4a4a" stroke-width="1.0"/>
<text x="176.65" y="504.40" font-size="8.0" text-anchor="middle" font-weight="bold" fill="#231f20" letter-spacing="0.8">**</text>
<line x1="166.30" y1="543.00" x2="166.30" y2="575.10" stroke="#6fbde6" stroke-width="1.0" />
<line x1="163.30" y1="543.00" x2="169.30" y2="543.00" stroke="#6fbde6" stroke-width="1.0" />
<line x1="163.30" y1="575.10" x2="169.30" y2="575.10" stroke="#6fbde6" stroke-width="1.0" />
<line x1="186.20" y1="515.40" x2="186.20" y2="544.50" stroke="#f0ad5e" stroke-width="1.0" />
<line x1="183.20" y1="515.40" x2="189.20" y2="515.40" stroke="#f0ad5e" stroke-width="1.0" />
<line x1="183.20" y1="544.50" x2="189.20" y2="544.50" stroke="#f0ad5e" stroke-width="1.0" />
<circle cx="161.30" cy="543.00" r="1.75" fill="#2b9fd9"/>
<circle cx="171.60" cy="541.00" r="1.75" fill="#2b9fd9"/>
<circle cx="161.30" cy="555.50" r="1.75" fill="#2b9fd9"/>
<circle cx="171.60" cy="552.00" r="1.75" fill="#2b9fd9"/>
<circle cx="171.60" cy="557.30" r="1.75" fill="#2b9fd9"/>
<circle cx="166.30" cy="562.60" r="1.75" fill="#2b9fd9"/>
<circle cx="166.30" cy="572.90" r="1.75" fill="#2b9fd9"/>
<circle cx="166.30" cy="591.30" r="1.75" fill="#2b9fd9"/>
<circle cx="186.20" cy="510.30" r="1.75" fill="#ec8e1e"/>
<circle cx="186.20" cy="515.40" r="1.75" fill="#ec8e1e"/>
<circle cx="180.90" cy="527.90" r="1.75" fill="#ec8e1e"/>
<circle cx="186.20" cy="526.80" r="1.75" fill="#ec8e1e"/>
<circle cx="191.50" cy="524.90" r="1.75" fill="#ec8e1e"/>
<circle cx="191.50" cy="528.70" r="1.75" fill="#ec8e1e"/>
<circle cx="186.20" cy="548.30" r="1.75" fill="#ec8e1e"/>
<circle cx="186.20" cy="554.60" r="1.75" fill="#ec8e1e"/>
<line x1="160.10" y1="559.30" x2="172.50" y2="559.30" stroke="#2b9fd9" stroke-width="1.1" />
<line x1="180.00" y1="528.70" x2="192.40" y2="528.70" stroke="#ec8e1e" stroke-width="1.1" />
<text x="276.20" y="481.90" font-size="11" text-anchor="middle" font-weight="normal" fill="#231f20" textLength="39.9" lengthAdjust="spacingAndGlyphs" >S100a8</text>
<line x1="252.50" y1="560.50" x2="296.50" y2="560.50" stroke="#9ec6de" stroke-width="0.9" />
<line x1="257.50" y1="592.50" x2="296.50" y2="592.50" stroke="#666" stroke-width="1.0" stroke-dasharray="1.1,1.1"/>
<text x="298.80" y="563.90" font-size="9.7" text-anchor="start" font-weight="normal" fill="#231f20" >SS</text>
<text x="298.80" y="595.20" font-size="9.7" text-anchor="start" font-weight="normal" fill="#231f20" >AA</text>
<line x1="256.00" y1="489.20" x2="256.00" y2="594.90" stroke="#231f20" stroke-width="1.3" />
<line x1="255.40" y1="594.30" x2="296.50" y2="594.30" stroke="#231f20" stroke-width="1.3" />
<line x1="252.50" y1="492.30" x2="256.00" y2="492.30" stroke="#231f20" stroke-width="1.1" />
<text x="248.00" y="495.20" font-size="9.2" text-anchor="end" font-weight="normal" fill="#231f20" >6</text>
<line x1="252.50" y1="525.70" x2="256.00" y2="525.70" stroke="#231f20" stroke-width="1.1" />
<text x="248.00" y="528.60" font-size="9.2" text-anchor="end" font-weight="normal" fill="#231f20" >4</text>
<line x1="252.50" y1="559.90" x2="256.00" y2="559.90" stroke="#231f20" stroke-width="1.1" />
<text x="248.00" y="562.80" font-size="9.2" text-anchor="end" font-weight="normal" fill="#231f20" >2</text>
<line x1="252.50" y1="592.80" x2="256.00" y2="592.80" stroke="#231f20" stroke-width="1.1" />
<text x="248.00" y="595.70" font-size="9.2" text-anchor="end" font-weight="normal" fill="#231f20" >0</text>
<line x1="266.20" y1="594.30" x2="266.20" y2="597.30" stroke="#231f20" stroke-width="1.1" />
<line x1="286.50" y1="594.30" x2="286.50" y2="597.30" stroke="#231f20" stroke-width="1.1" />
<text transform="translate(270.70,606.80) rotate(-45)" font-size="9.45" text-anchor="end" fill="#231f20">SS PBS/heme</text>
<text transform="translate(291.00,606.80) rotate(-45)" font-size="9.45" text-anchor="end" fill="#231f20">SS SnMP/heme</text>
<text transform="translate(236.10,541.80) rotate(-90)" font-size="10.5" text-anchor="middle" fill="#231f20" style="stroke-width:0.45px" textLength="67.6" lengthAdjust="spacingAndGlyphs">log 2 (fold change)</text>
<polyline points="266.20,532.20 266.20,496.20 286.50,496.20 286.50,499.40" fill="none" stroke="#4a4a4a" stroke-width="1.0"/>
<text x="276.75" y="496.90" font-size="8.0" text-anchor="middle" font-weight="bold" fill="#231f20" letter-spacing="0.8">**</text>
<line x1="266.20" y1="549.40" x2="266.20" y2="576.20" stroke="#6fbde6" stroke-width="1.0" />
<line x1="263.20" y1="549.40" x2="269.20" y2="549.40" stroke="#6fbde6" stroke-width="1.0" />
<line x1="263.20" y1="576.20" x2="269.20" y2="576.20" stroke="#6fbde6" stroke-width="1.0" />
<line x1="286.50" y1="516.50" x2="286.50" y2="546.40" stroke="#f0ad5e" stroke-width="1.0" />
<line x1="283.50" y1="516.50" x2="289.50" y2="516.50" stroke="#f0ad5e" stroke-width="1.0" />
<line x1="283.50" y1="546.40" x2="289.50" y2="546.40" stroke="#f0ad5e" stroke-width="1.0" />
<circle cx="266.10" cy="533.90" r="1.75" fill="#2b9fd9"/>
<circle cx="261.30" cy="559.30" r="1.75" fill="#2b9fd9"/>
<circle cx="270.70" cy="561.00" r="1.75" fill="#2b9fd9"/>
<circle cx="261.30" cy="563.00" r="1.75" fill="#2b9fd9"/>
<circle cx="270.70" cy="566.60" r="1.75" fill="#2b9fd9"/>
<circle cx="261.30" cy="569.60" r="1.75" fill="#2b9fd9"/>
<circle cx="266.10" cy="573.70" r="1.75" fill="#2b9fd9"/>
<circle cx="266.10" cy="577.90" r="1.75" fill="#2b9fd9"/>
<circle cx="286.50" cy="501.90" r="1.75" fill="#ec8e1e"/>
<circle cx="281.20" cy="524.80" r="1.75" fill="#ec8e1e"/>
<circle cx="291.50" cy="525.20" r="1.75" fill="#ec8e1e"/>
<circle cx="286.50" cy="530.60" r="1.75" fill="#ec8e1e"/>
<circle cx="286.50" cy="534.80" r="1.75" fill="#ec8e1e"/>
<circle cx="286.50" cy="538.90" r="1.75" fill="#ec8e1e"/>
<circle cx="286.50" cy="545.60" r="1.75" fill="#ec8e1e"/>
<circle cx="286.50" cy="549.40" r="1.75" fill="#ec8e1e"/>
<line x1="260.00" y1="563.00" x2="272.40" y2="563.00" stroke="#2b9fd9" stroke-width="1.1" />
<line x1="280.30" y1="531.50" x2="292.70" y2="531.50" stroke="#ec8e1e" stroke-width="1.1" />
<text x="376.10" y="481.90" font-size="11" text-anchor="middle" font-weight="normal" fill="#231f20" textLength="39.8" lengthAdjust="spacingAndGlyphs" >S100a9</text>
<line x1="352.40" y1="564.50" x2="396.50" y2="564.50" stroke="#a9c6d8" stroke-width="0.9" />
<line x1="357.40" y1="592.50" x2="396.50" y2="592.50" stroke="#666" stroke-width="1.0" stroke-dasharray="1.1,1.1"/>
<text x="398.80" y="567.90" font-size="9.7" text-anchor="start" font-weight="normal" fill="#231f20" >SS</text>
<text x="398.80" y="595.20" font-size="9.7" text-anchor="start" font-weight="normal" fill="#231f20" >AA</text>
<line x1="355.90" y1="489.20" x2="355.90" y2="594.90" stroke="#231f20" stroke-width="1.3" />
<line x1="355.30" y1="594.30" x2="396.50" y2="594.30" stroke="#231f20" stroke-width="1.3" />
<line x1="352.40" y1="492.30" x2="355.90" y2="492.30" stroke="#231f20" stroke-width="1.1" />
<text x="347.90" y="495.20" font-size="9.2" text-anchor="end" font-weight="normal" fill="#231f20" >6</text>
<line x1="352.40" y1="525.70" x2="355.90" y2="525.70" stroke="#231f20" stroke-width="1.1" />
<text x="347.90" y="528.60" font-size="9.2" text-anchor="end" font-weight="normal" fill="#231f20" >4</text>
<line x1="352.40" y1="558.80" x2="355.90" y2="558.80" stroke="#231f20" stroke-width="1.1" />
<text x="347.90" y="561.70" font-size="9.2" text-anchor="end" font-weight="normal" fill="#231f20" >2</text>
<line x1="352.40" y1="592.80" x2="355.90" y2="592.80" stroke="#231f20" stroke-width="1.1" />
<text x="347.90" y="595.70" font-size="9.2" text-anchor="end" font-weight="normal" fill="#231f20" >0</text>
<line x1="366.00" y1="594.30" x2="366.00" y2="597.30" stroke="#231f20" stroke-width="1.1" />
<line x1="386.20" y1="594.30" x2="386.20" y2="597.30" stroke="#231f20" stroke-width="1.1" />
<text transform="translate(370.50,606.80) rotate(-45)" font-size="9.45" text-anchor="end" fill="#231f20">SS PBS/heme</text>
<text transform="translate(390.70,606.80) rotate(-45)" font-size="9.45" text-anchor="end" fill="#231f20">SS SnMP/heme</text>
<text transform="translate(335.60,541.80) rotate(-90)" font-size="10.5" text-anchor="middle" fill="#231f20" style="stroke-width:0.45px" textLength="67.6" lengthAdjust="spacingAndGlyphs">log 2 (fold change)</text>
<polyline points="366.00,539.30 366.00,502.40 386.20,502.40 386.20,505.70" fill="none" stroke="#4a4a4a" stroke-width="1.0"/>
<text x="376.50" y="503.10" font-size="8.0" text-anchor="middle" font-weight="bold" fill="#231f20" letter-spacing="0.8">***</text>
<line x1="366.00" y1="554.30" x2="366.00" y2="578.00" stroke="#6fbde6" stroke-width="1.0" />
<line x1="363.00" y1="554.30" x2="369.00" y2="554.30" stroke="#6fbde6" stroke-width="1.0" />
<line x1="363.00" y1="578.00" x2="369.00" y2="578.00" stroke="#6fbde6" stroke-width="1.0" />
<line x1="386.20" y1="521.80" x2="386.20" y2="548.90" stroke="#f0ad5e" stroke-width="1.0" />
<line x1="383.20" y1="521.80" x2="389.20" y2="521.80" stroke="#f0ad5e" stroke-width="1.0" />
<line x1="383.20" y1="548.90" x2="389.20" y2="548.90" stroke="#f0ad5e" stroke-width="1.0" />
<circle cx="365.80" cy="541.90" r="1.75" fill="#2b9fd9"/>
<circle cx="361.30" cy="565.50" r="1.75" fill="#2b9fd9"/>
<circle cx="366.10" cy="563.80" r="1.75" fill="#2b9fd9"/>
<circle cx="370.70" cy="563.80" r="1.75" fill="#2b9fd9"/>
<circle cx="370.70" cy="567.10" r="1.75" fill="#2b9fd9"/>
<circle cx="366.10" cy="570.80" r="1.75" fill="#2b9fd9"/>
<circle cx="368.20" cy="577.10" r="1.75" fill="#2b9fd9"/>
<circle cx="363.30" cy="580.90" r="1.75" fill="#2b9fd9"/>
<circle cx="386.20" cy="509.10" r="1.75" fill="#ec8e1e"/>
<circle cx="381.20" cy="530.60" r="1.75" fill="#ec8e1e"/>
<circle cx="386.20" cy="530.30" r="1.75" fill="#ec8e1e"/>
<circle cx="391.10" cy="531.50" r="1.75" fill="#ec8e1e"/>
<circle cx="386.20" cy="539.80" r="1.75" fill="#ec8e1e"/>
<circle cx="391.10" cy="539.80" r="1.75" fill="#ec8e1e"/>
<circle cx="383.20" cy="550.50" r="1.75" fill="#ec8e1e"/>
<circle cx="388.50" cy="550.50" r="1.75" fill="#ec8e1e"/>
<line x1="359.80" y1="566.00" x2="372.20" y2="566.00" stroke="#2b9fd9" stroke-width="1.1" />
<line x1="380.00" y1="535.10" x2="392.40" y2="535.10" stroke="#ec8e1e" stroke-width="1.1" />
<text x="475.90" y="468.20" font-size="11" text-anchor="middle" font-weight="normal" fill="#231f20" textLength="47.5" lengthAdjust="spacingAndGlyphs" >Mrgpra2b</text>
<text x="476.05" y="481.30" font-size="11" text-anchor="middle" font-weight="normal" fill="#231f20" textLength="69.0" lengthAdjust="spacingAndGlyphs" >(granulocytes)</text>
<line x1="452.10" y1="566.50" x2="496.60" y2="566.50" stroke="#a0a0a0" stroke-width="0.9" />
<line x1="457.10" y1="569.50" x2="496.60" y2="569.50" stroke="#666" stroke-width="1.0" stroke-dasharray="1.1,1.1"/>
<text x="498.90" y="567.40" font-size="9.7" text-anchor="start" font-weight="normal" fill="#231f20" >SS</text>
<text x="498.90" y="576.00" font-size="9.7" text-anchor="start" font-weight="normal" fill="#231f20" >AA</text>
<line x1="455.60" y1="489.20" x2="455.60" y2="594.90" stroke="#231f20" stroke-width="1.3" />
<line x1="455.00" y1="594.30" x2="496.60" y2="594.30" stroke="#231f20" stroke-width="1.3" />
<line x1="452.10" y1="492.20" x2="455.60" y2="492.20" stroke="#231f20" stroke-width="1.1" />
<text x="447.60" y="495.10" font-size="9.2" text-anchor="end" font-weight="normal" fill="#231f20" >3</text>
<line x1="452.10" y1="518.00" x2="455.60" y2="518.00" stroke="#231f20" stroke-width="1.1" />
<text x="447.60" y="520.90" font-size="9.2" text-anchor="end" font-weight="normal" fill="#231f20" >2</text>
<line x1="452.10" y1="543.60" x2="455.60" y2="543.60" stroke="#231f20" stroke-width="1.1" />
<text x="447.60" y="546.50" font-size="9.2" text-anchor="end" font-weight="normal" fill="#231f20" >2</text>
<line x1="452.10" y1="569.10" x2="455.60" y2="569.10" stroke="#231f20" stroke-width="1.1" />
<text x="447.60" y="572.00" font-size="9.2" text-anchor="end" font-weight="normal" fill="#231f20" >0</text>
<line x1="452.10" y1="594.30" x2="455.60" y2="594.30" stroke="#231f20" stroke-width="1.1" />
<text x="447.60" y="597.20" font-size="9.2" text-anchor="end" font-weight="normal" fill="#231f20" >−1</text>
<line x1="465.80" y1="594.30" x2="465.80" y2="597.30" stroke="#231f20" stroke-width="1.1" />
<line x1="486.20" y1="594.30" x2="486.20" y2="597.30" stroke="#231f20" stroke-width="1.1" />
<text transform="translate(470.30,606.80) rotate(-45)" font-size="9.45" text-anchor="end" fill="#231f20">SS PBS/heme</text>
<text transform="translate(490.70,606.80) rotate(-45)" font-size="9.45" text-anchor="end" fill="#231f20">SS SnMP/heme</text>
<text transform="translate(430.10,542.40) rotate(-90)" font-size="10.5" text-anchor="middle" fill="#231f20" style="stroke-width:0.45px" textLength="66.3" lengthAdjust="spacingAndGlyphs">log 2 (fold change)</text>
<polyline points="465.80,537.00 465.80,500.40 486.20,500.40 486.20,503.40" fill="none" stroke="#4a4a4a" stroke-width="1.0"/>
<text x="476.40" y="501.10" font-size="8.0" text-anchor="middle" font-weight="bold" fill="#231f20" letter-spacing="0.8">*</text>
<line x1="465.80" y1="538.50" x2="465.80" y2="575.00" stroke="#6fbde6" stroke-width="1.0" />
<line x1="462.80" y1="538.50" x2="468.80" y2="538.50" stroke="#6fbde6" stroke-width="1.0" />
<line x1="462.80" y1="575.00" x2="468.80" y2="575.00" stroke="#6fbde6" stroke-width="1.0" />
<line x1="486.20" y1="517.60" x2="486.20" y2="549.20" stroke="#f0ad5e" stroke-width="1.0" />
<line x1="483.20" y1="517.60" x2="489.20" y2="517.60" stroke="#f0ad5e" stroke-width="1.0" />
<line x1="483.20" y1="549.20" x2="489.20" y2="549.20" stroke="#f0ad5e" stroke-width="1.0" />
<circle cx="466.00" cy="540.00" r="1.75" fill="#2b9fd9"/>
<circle cx="461.70" cy="545.60" r="1.75" fill="#2b9fd9"/>
<circle cx="469.80" cy="545.80" r="1.75" fill="#2b9fd9"/>
<circle cx="466.00" cy="550.80" r="1.75" fill="#2b9fd9"/>
<circle cx="466.00" cy="556.00" r="1.75" fill="#2b9fd9"/>
<circle cx="466.00" cy="572.40" r="1.75" fill="#2b9fd9"/>
<circle cx="466.00" cy="578.50" r="1.75" fill="#2b9fd9"/>
<circle cx="466.00" cy="582.80" r="1.75" fill="#2b9fd9"/>
<circle cx="486.20" cy="519.70" r="1.75" fill="#ec8e1e"/>
<circle cx="486.20" cy="524.90" r="1.75" fill="#ec8e1e"/>
<circle cx="486.20" cy="534.40" r="1.75" fill="#ec8e1e"/>
<circle cx="481.90" cy="540.80" r="1.75" fill="#ec8e1e"/>
<circle cx="490.60" cy="538.80" r="1.75" fill="#ec8e1e"/>
<circle cx="481.90" cy="551.80" r="1.75" fill="#ec8e1e"/>
<circle cx="490.60" cy="550.90" r="1.75" fill="#ec8e1e"/>
<line x1="459.60" y1="559.30" x2="472.00" y2="559.30" stroke="#2b9fd9" stroke-width="1.1" />
<line x1="480.00" y1="533.60" x2="492.40" y2="533.60" stroke="#ec8e1e" stroke-width="1.1" />
<rect x="0.5" y="0.5" width="519" height="662" fill="none" stroke="#454545" stroke-width="1"/>
</svg>
</body></html>
